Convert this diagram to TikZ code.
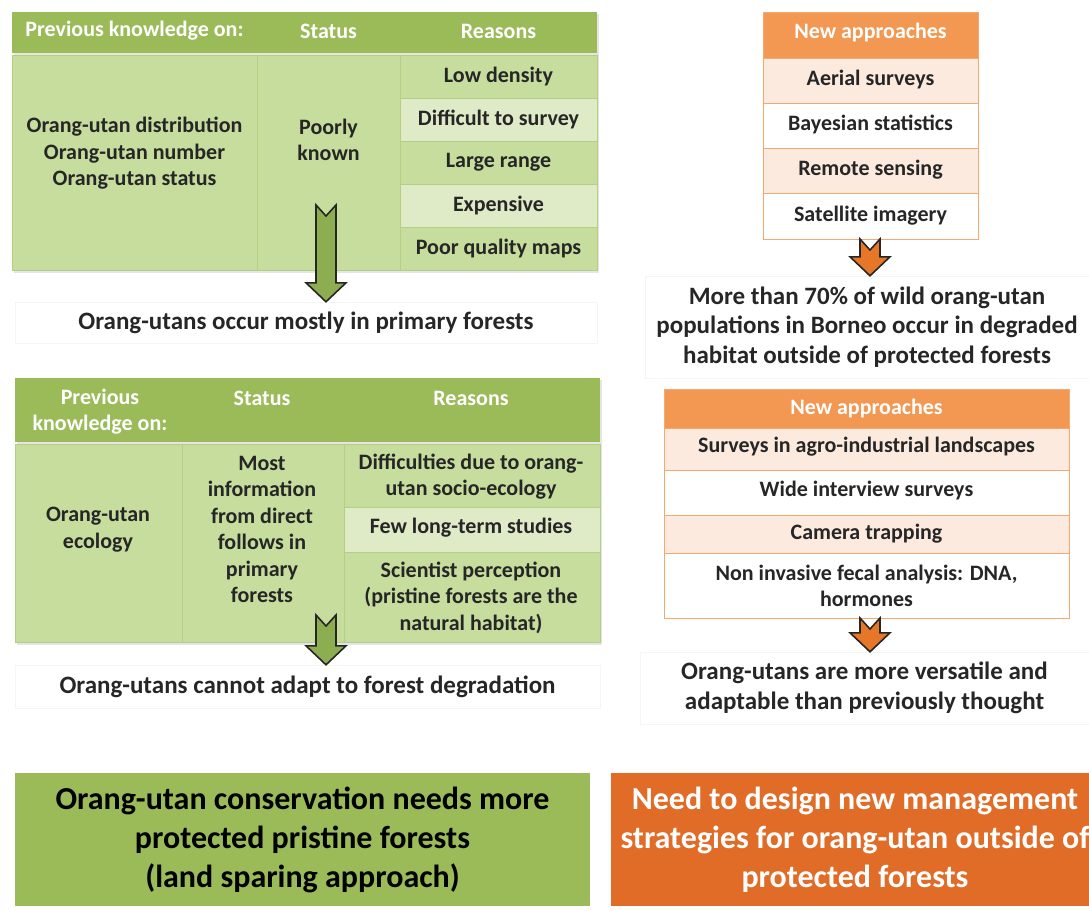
\documentclass[tikz,border=0pt]{standalone}
\usepackage{fontspec}
\setmainfont{Carlito}
\usepackage{tikz}
\usetikzlibrary{calc,positioning}

\definecolor{thead}{RGB}{155,187,89}
\definecolor{tbody}{RGB}{199,221,158}
\definecolor{tlight}{RGB}{222,235,198}
\definecolor{gline}{RGB}{180,206,132}
\definecolor{ohead}{RGB}{243,152,82}
\definecolor{olight}{RGB}{252,234,222}
\definecolor{oline}{RGB}{246,168,112}
\definecolor{gbox}{RGB}{155,187,89}
\definecolor{obox}{RGB}{224,108,40}
\definecolor{garrow}{RGB}{140,174,80}
\definecolor{oarrow}{RGB}{230,118,40}
\definecolor{ink}{RGB}{38,38,38}

\newcommand{\tabfont}{\fontsize{22}{26.5}\selectfont\bfseries}
\newcommand{\resfont}{\fontsize{25}{29.5}\selectfont\bfseries}
\newcommand{\bigfont}{\fontsize{32}{39}\selectfont\bfseries}

% notched block arrow from a start point down to a target
\newcommand{\notcharrow}[3]{%
  \draw[#1] let \p1=(#2), \p2=(#3) in
    (\x1-10pt,\y1) -- (\x1,\y1-11pt) -- (\x1+10pt,\y1) -- (\x1+10pt,\y2+19pt)
    -- (\x1+20pt,\y2+19pt) -- (\x1,\y2) -- (\x1-20pt,\y2+19pt)
    -- (\x1-10pt,\y2+19pt) -- cycle;}

\begin{document}
\begin{tikzpicture}[x=1pt,y=-1pt,
    txt/.style={text=ink,font=\tabfont,align=center,inner sep=0pt},
    hd/.style={txt,text=white},
    res/.style={draw=black!4,text=ink,font=\resfont,align=center,inner sep=0pt},
    big/.style={font=\bigfont,align=center,inner sep=0pt},
    garrowst/.style={fill=garrow,draw=black!85,line width=1.6pt,line join=miter},
    oarrowst/.style={fill=oarrow,draw=black!85,line width=1.6pt,line join=miter}]
    \useasboundingbox (0,0) rectangle (1089,910);
    \clip (0,0) rectangle (1089,910);

    % first table: distribution
    \fill[black!10] (14,14) rectangle (599,273);
    \fill[thead] (12,12) rectangle (597,53);
    \filldraw[fill=tbody,draw=gline,line width=0.8pt] (12,55) rectangle (257,270) (257,55) rectangle (400,270);
    \foreach \c [count=\i from 0] in {tbody,tlight,tbody,tlight,tbody} {
        \filldraw[fill=\c,draw=gline,line width=0.8pt] (400,55+\i*43) rectangle (597,98+\i*43);
    }
    \node[hd] (h1a) at (134.5,31) {Previous knowledge on:};
    \node[hd] (h1b) at (328.5,31) {Status};
    \node[hd] (h1c) at (498.5,31) {Reasons};
    \node[txt] (topic1) at (134.5,153.5) {Orang-utan distribution\\Orang-utan number\\Orang-utan status};
    \node[txt] (status1) at (328.5,140) {Poorly\\known};
    \foreach \t [count=\i from 0] in {Low density,Difficult to survey,Large range,Expensive,Poor quality maps} {
        \node[txt] (why1\i) at (498.5,76.5+\i*43) {\t};
    }

    % second table: ecology
    \fill[black!10] (17,380) rectangle (602,645);
    \fill[thead] (15,378) rectangle (600,442);
    \filldraw[fill=tbody,draw=gline,line width=0.8pt] (15,444) rectangle (182,642) (182,444) rectangle (344,642);
    \foreach \c/\a/\b in {tbody/444/507,tlight/507/552,tbody/552/642} {
        \filldraw[fill=\c,draw=gline,line width=0.8pt] (344,\a) rectangle (600,\b);
    }
    \node[hd] (h2a) at (100,411.5) {Previous\\knowledge on:};
    \node[hd] (h2b) at (262,398) {Status};
    \node[hd] (h2c) at (471,398) {Reasons};
    \node[txt] (topic2) at (98,529.5) {Orang-utan\\ecology};
    \node[txt] (status2) at (262,529.5) {Most\\information\\from direct\\follows in\\primary\\forests};
    \node[txt] (why20) at (471,476.5) {Difficulties due to orang-\\utan socio-ecology};
    \node[txt] (why21) at (471,528) {Few long-term studies};
    \node[txt] (why22) at (471,597.5) {Scientist perception\\(pristine forests are the\\natural habitat)};

    % new approaches, top
    \filldraw[fill=ohead,draw=oline,line width=1pt] (763,12) rectangle (978,58);
    \node[hd] (o1h) at (870.5,33) {New approaches};
    \foreach \c/\t [count=\i from 0] in {olight/Aerial surveys,white/Bayesian statistics,olight/Remote sensing,white/Satellite imagery} {
        \filldraw[fill=\c,draw=oline,line width=1pt] (763,58+\i*45.25) rectangle (978,103.25+\i*45.25);
        \node[txt] (ap1\i) at (870.5,79.5+\i*45.25) {\t};
    }

    % new approaches, bottom
    \filldraw[fill=ohead,draw=oline,line width=1pt] (664,389) rectangle (1069,428);
    \node[hd] (o2h) at (866.5,408.5) {New approaches};
    \foreach \c/\a/\b in {olight/428/470,white/470/515,olight/515/553,white/553/618} {
        \filldraw[fill=\c,draw=oline,line width=1pt] (664,\a) rectangle (1069,\b);
    }
    \node[txt] (ap20) at (866.5,447) {Surveys in agro-industrial landscapes};
    \node[txt] (ap21) at (866.5,491) {Wide interview surveys};
    \node[txt] (ap22) at (866.5,534) {Camera trapping};
    \node[txt] (ap23) at (866.5,586) {Non invasive fecal analysis: DNA,\\hormones};

    % results
    \node[res,minimum width=582,minimum height=41] (res1) at (306,322.5) {Orang-utans occur mostly in primary forests};
    \node[res,minimum width=585,minimum height=43] (res2) at (307.5,686.5) {Orang-utans cannot adapt to forest degradation};
    \node[res,minimum width=444,minimum height=102] (res3) at (867,327) {More than 70\% of wild orang-utan\\populations in Borneo occur in degraded\\habitat outside of protected forests};
    \node[res,minimum width=449,minimum height=72] (res4) at (864.5,688) {Orang-utans are more versatile and\\adaptable than previously thought};

    \coordinate (g1) at (326,205);
    \coordinate (g2) at (326,615);
    \coordinate (o1) at (870,239);
    \coordinate (o2) at (870,618);
    \notcharrow{garrowst}{g1}{res1.north}
    \notcharrow{garrowst}{g2}{res2.north}
    \notcharrow{oarrowst}{o1}{res3.north}
    \notcharrow{oarrowst}{o2}{res4.north}

    % conclusions
    \node[big,fill=gbox,text=black,minimum width=575,minimum height=133] (need1) at (302.5,839.5) {Orang-utan conservation needs more\\protected pristine forests\\(land sparing approach)};
    \node[big,fill=obox,text=white,minimum width=488,minimum height=133] (need2) at (855,839.5) {Need to design new management\\strategies for orang-utan outside of\\protected forests};
\end{tikzpicture}
\end{document}
